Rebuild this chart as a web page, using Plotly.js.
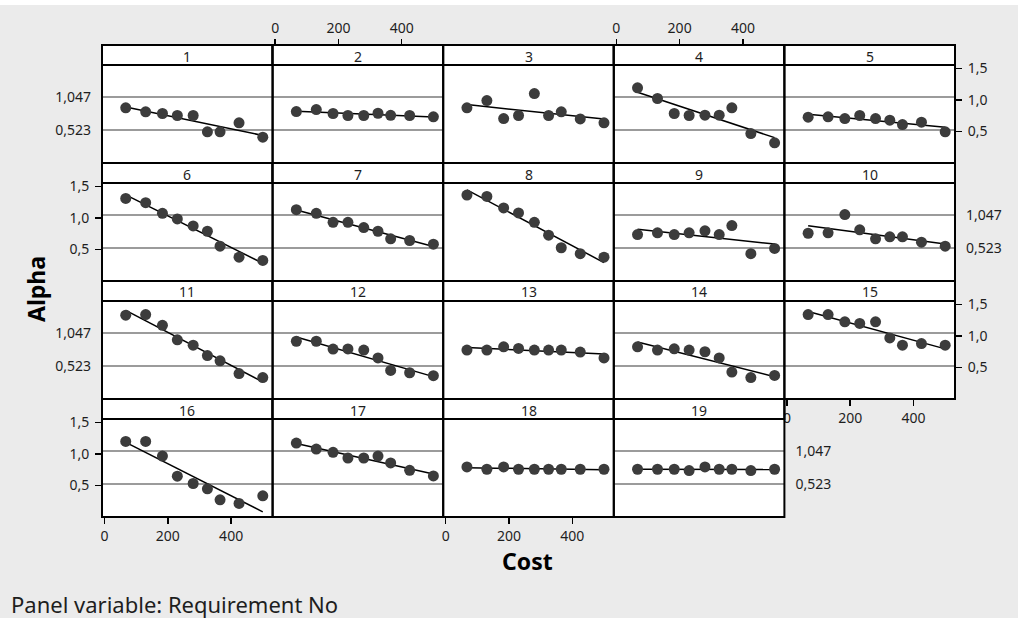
<!DOCTYPE html>
<html>
<head>
<meta charset="utf-8">
<script src="https://cdn.plot.ly/plotly-3.0.1.min.js"></script>
<style>html,body{margin:0;padding:0;background:#fff}#chart{width:1018px;height:618px}</style>
</head>
<body>
<div id="chart"></div>
<script>
// ---- data ----
const cost = [67, 130, 183, 230, 280, 325, 365, 425, 500];
const req1  = [0.876, 0.813, 0.786, 0.754, 0.754, 0.495, 0.495, 0.638, 0.410];
const req2  = [0.817, 0.849, 0.786, 0.754, 0.754, 0.790, 0.757, 0.754, 0.733];
const req3  = [0.876, 0.992, 0.706, 0.754, 1.103, 0.754, 0.813, 0.700, 0.638];
const req4  = [1.194, 1.024, 0.786, 0.754, 0.759, 0.759, 0.876, 0.468, 0.320];
const req5  = [0.727, 0.733, 0.706, 0.754, 0.706, 0.680, 0.611, 0.648, 0.495];
const req6  = [1.311, 1.243, 1.074, 0.986, 0.875, 0.790, 0.553, 0.379, 0.327];
const req7  = [1.133, 1.074, 0.932, 0.932, 0.848, 0.790, 0.670, 0.643, 0.585];
const req8  = [1.365, 1.343, 1.160, 1.080, 0.932, 0.727, 0.528, 0.433, 0.379];
const req9  = [0.738, 0.765, 0.738, 0.765, 0.796, 0.738, 0.880, 0.433, 0.517];
const req10 = [0.758, 0.765, 1.054, 0.812, 0.670, 0.701, 0.701, 0.616, 0.553];
const req11 = [1.330, 1.340, 1.170, 0.940, 0.855, 0.690, 0.607, 0.403, 0.340];
const req12 = [0.917, 0.917, 0.792, 0.795, 0.777, 0.652, 0.453, 0.417, 0.370];
const req13 = [0.777, 0.777, 0.828, 0.803, 0.777, 0.777, 0.777, 0.745, 0.652];
const req14 = [0.828, 0.777, 0.797, 0.777, 0.750, 0.652, 0.427, 0.340, 0.375];
const req15 = [1.340, 1.340, 1.225, 1.200, 1.225, 0.970, 0.855, 0.880, 0.855];
const req16 = [1.200, 1.200, 0.968, 0.648, 0.532, 0.447, 0.273, 0.216, 0.336];
const req17 = [1.174, 1.079, 1.027, 0.937, 0.937, 0.968, 0.858, 0.742, 0.652];
const req18 = [0.795, 0.758, 0.795, 0.758, 0.758, 0.758, 0.758, 0.758, 0.758];
const req19 = [0.758, 0.758, 0.758, 0.737, 0.795, 0.758, 0.758, 0.737, 0.758];
const panelLabels = ['1','2','3','4','5','6','7','8','9','10','11','12','13','14','15','16','17','18','19'];
const panelSeries = [req1,req2,req3,req4,req5,req6,req7,req8,req9,req10,req11,req12,req13,req14,req15,req16,req17,req18,req19];
const xTickVals = [0, 200, 400];
const xTickText = ['0', '200', '400'];
const yTickVals = [0.5, 1.0, 1.5];
const yTickText = ['0,5', '1,0', '1,5'];
const refVals = [1.047, 0.523];
const refText = ['1,047', '0,523'];

// ---- layout geometry ----
const W = 1018, H = 618;
const X0 = 102, PW = 170.6, Y0 = 45, RH = 118, SH = 20;
const fx = p => p / W, fy = p => 1 - p / H;
const FONT = 'Noto Sans, DejaVu Sans, sans-serif';
const TXT = '#1e1e1e';
const TICK = 14;

function fit(x, y) {
  const n = x.length;
  let sx = 0, sy = 0, sxx = 0, sxy = 0;
  for (let i = 0; i < n; i++) { sx += x[i]; sy += y[i]; sxx += x[i]*x[i]; sxy += x[i]*y[i]; }
  const b = (n*sxy - sx*sy) / (n*sxx - sx*sx);
  const a = (sy - b*sx) / n;
  return [a + b*x[0], a + b*x[n-1]];
}

const traces = [];
const layout = {
  width: W, height: H,
  margin: {l: 0, r: 0, t: 0, b: 0},
  paper_bgcolor: '#ebebeb', plot_bgcolor: '#ffffff',
  showlegend: false,
  font: {family: FONT, size: TICK, color: TXT},
  shapes: [], annotations: []
};

const bottomX = {15: true, 17: true, 14: true};
const topX = {1: true, 3: true};
const yNum = {4: 'right', 5: 'left', 14: 'right', 15: 'left'};
const yRef = {0: 'left', 9: 'right', 10: 'left', 18: 'right'};

panelSeries.forEach((vals, i) => {
  const r = Math.floor(i / 5), c = i % 5;
  const xl = X0 + c*PW, xr = xl + PW;
  const st = Y0 + r*RH, pt = st + SH, pb = st + RH;
  const sfx = i === 0 ? '' : String(i + 1);
  const xa = 'x' + sfx, ya = 'y' + sfx;

  const xax = {
    domain: [fx(xl), fx(xr)], range: [-8, 531], anchor: ya,
    showgrid: false, zeroline: false, showline: false, fixedrange: true,
    showticklabels: false, ticks: ''
  };
  if (bottomX[i] || topX[i]) {
    Object.assign(xax, {
      showticklabels: true, ticks: 'outside', ticklen: 6, tickwidth: 1.5, tickcolor: '#000',
      tickmode: 'array', tickvals: xTickVals, ticktext: xTickText,
      tickfont: {family: FONT, size: TICK, color: TXT}
    });
    if (topX[i]) { xax.anchor = 'free'; xax.position = fy(Y0); xax.side = 'top'; }
  }
  const yax = {
    domain: [fy(pb), fy(pt)], range: [0, 1.556], anchor: xa,
    showgrid: false, zeroline: false, showline: false, fixedrange: true,
    showticklabels: false, ticks: ''
  };
  if (yNum[i]) {
    Object.assign(yax, {
      side: yNum[i], showticklabels: true, ticks: 'outside', ticklen: 6, tickwidth: 1.5, tickcolor: '#000',
      tickmode: 'array', tickvals: yTickVals, ticktext: yTickText, ticklabelstandoff: 3,
      tickfont: {family: FONT, size: TICK, color: TXT}
    });
  }
  if (yRef[i]) {
    Object.assign(yax, {
      side: yRef[i], showticklabels: true, ticks: '',
      tickmode: 'array', tickvals: refVals, ticktext: refText, ticklabelstandoff: 10,
      tickfont: {family: FONT, size: TICK, color: TXT}
    });
  }
  layout['xaxis' + sfx] = xax;
  layout['yaxis' + sfx] = yax;

  // reference grid lines
  refVals.forEach(v => layout.shapes.push({
    type: 'line', xref: xa + ' domain', yref: ya, x0: 0, x1: 1, y0: v, y1: v,
    line: {color: '#7a7a7a', width: 1.4}, layer: 'below'
  }));
  // strip
  layout.shapes.push({type: 'rect', xref: 'paper', yref: 'paper',
    x0: fx(xl), x1: fx(xr), y0: fy(pt), y1: fy(st),
    fillcolor: '#ffffff', line: {color: '#000', width: 2}, layer: 'above'});
  // panel frame
  layout.shapes.push({type: 'rect', xref: 'paper', yref: 'paper',
    x0: fx(xl), x1: fx(xr), y0: fy(pb), y1: fy(st),
    line: {color: '#000', width: 2}, layer: 'above'});
  layout.annotations.push({xref: 'paper', yref: 'paper', x: fx((xl + xr)/2), y: fy(st + SH/2 + 1),
    text: panelLabels[i], showarrow: false, font: {family: FONT, size: TICK, color: TXT},
    xanchor: 'center', yanchor: 'middle'});

  const fl = fit(cost, vals);
  traces.push({type: 'scatter', mode: 'lines', x: [cost[0], cost[cost.length-1]], y: fl,
    xaxis: xa, yaxis: ya, line: {color: '#000', width: 1.5}, hoverinfo: 'skip', cliponaxis: false});
  traces.push({type: 'scatter', mode: 'markers', x: cost, y: vals,
    xaxis: xa, yaxis: ya, marker: {color: '#3c3c3c', size: 11}, cliponaxis: false});
});

// white band at the very top
layout.shapes.push({type: 'rect', xref: 'paper', yref: 'paper', x0: 0, x1: 1, y0: fy(5), y1: 1,
  fillcolor: '#ffffff', line: {width: 0}, layer: 'above'});

layout.annotations.push(
  {xref: 'paper', yref: 'paper', x: fx(527), y: fy(561), text: '<b>Cost</b>', showarrow: false,
   font: {family: FONT, size: 23, color: '#000'}, xanchor: 'center', yanchor: 'middle'},
  {xref: 'paper', yref: 'paper', x: fx(36), y: fy(289), text: '<b>Alpha</b>', showarrow: false, textangle: -90,
   font: {family: FONT, size: 23, color: '#000'}, xanchor: 'center', yanchor: 'middle'},
  {xref: 'paper', yref: 'paper', x: fx(9), y: fy(604), text: 'Panel variable: Requirement No', showarrow: false,
   font: {family: FONT, size: 22, color: TXT}, xanchor: 'left', yanchor: 'middle'}
);

Plotly.newPlot('chart', traces, layout, {staticPlot: true, displayModeBar: false});
</script>
</body>
</html>
